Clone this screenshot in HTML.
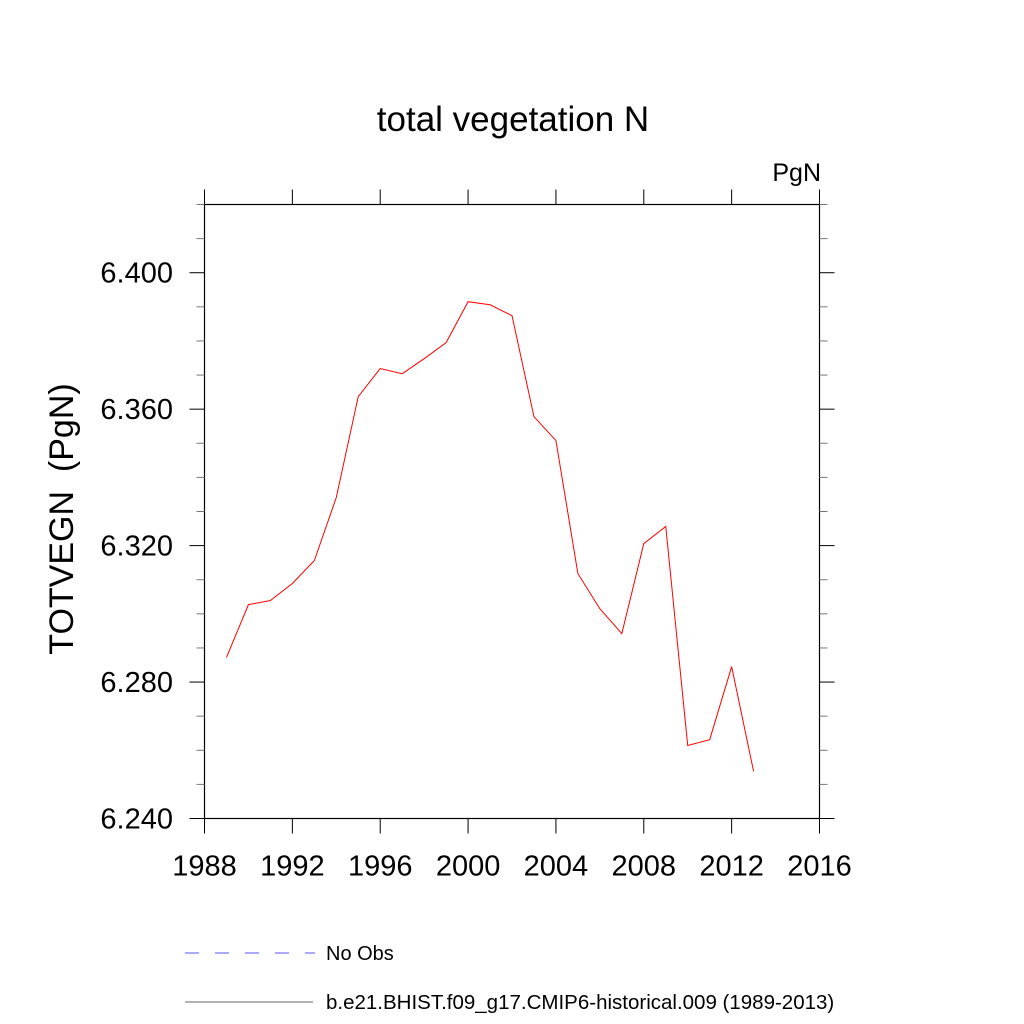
<!DOCTYPE html>
<html><head><meta charset="utf-8"><style>body{margin:0;background:#fff}svg{display:block;font-family:"Liberation Sans",sans-serif}</style></head>
<body>
<svg id="chart" width="1024" height="1024" viewBox="0 0 1024 1024">
<text x="513" y="131" font-size="35" text-anchor="middle">total vegetation N</text>
<text x="821" y="181" font-size="25" text-anchor="end">PgN</text>
<text transform="translate(73,519) rotate(-90)" font-size="34" text-anchor="middle" xml:space="preserve">TOTVEGN  (PgN)</text>
<g id="axes"></g>
<g id="series"></g>
<g>
<line x1="185" y1="953" x2="315" y2="953" stroke="#5555ff" stroke-width="1" stroke-dasharray="14,16"/>
<text x="326" y="960" font-size="20">No Obs</text>
<line x1="185" y1="1002" x2="313" y2="1002" stroke="#666" stroke-width="1"/>
<text x="326" y="1009" font-size="20.5">b.e21.BHIST.f09_g17.CMIP6-historical.009 (1989-2013)</text>
</g>
</svg>
<script>
const years=[1989,1990,1991,1992,1993,1994,1995,1996,1997,1998,1999,2000,2001,2002,2003,2004,2005,2006,2007,2008,2009,2010,2011,2012,2013];
const values=[6.2872,6.3027,6.3039,6.3089,6.3156,6.3341,6.3637,6.3719,6.3704,6.3748,6.3795,6.3915,6.3906,6.3874,6.3578,6.3508,6.3118,6.3015,6.2942,6.3206,6.3256,6.2614,6.2631,6.2845,6.2538];
const xTicks=[1988,1992,1996,2000,2004,2008,2012,2016];
const yTicks=[6.24,6.28,6.32,6.36,6.40];
const yLabels=["6.240","6.280","6.320","6.360","6.400"];
const L=204.5,R=819.5,T=204.5,B=818.5,x0=1988,x1=2016,y0=6.24,y1=6.42;
const sx=v=>L+(v-x0)/(x1-x0)*(R-L);
const sy=v=>B-(v-y0)/(y1-y0)*(B-T);
const NS="http://www.w3.org/2000/svg";
const ax=document.getElementById('axes'),se=document.getElementById('series');
function mk(p,tag,a){const e=document.createElementNS(NS,tag);for(const k in a)e.setAttribute(k,a[k]);p.appendChild(e);return e;}
const box=mk(ax,'rect',{x:L,y:T,width:R-L,height:B-T,fill:'none',stroke:'#000','stroke-width':1.2});


xTicks.forEach(v=>{const x=sx(v);
 const a=mk(ax,'line',{x1:x,y1:B,x2:x,y2:B+15,stroke:'#000'});
 
 
 const b=mk(ax,'line',{x1:x,y1:T,x2:x,y2:T-15,stroke:'#000'});
 
 
 const t=mk(ax,'text',{x:x,y:B+57,'font-size':29,'text-anchor':'middle'});t.textContent=v;
 
 
});
for(let i=0;i<=18;i++){const v=y0+i*0.01,y=sy(v);const major=i%4==0;const len=major?15:8;
 const a=mk(ax,'line',{x1:L,y1:y,x2:L-len,y2:y,stroke:major?'#000':'#777'});
 
 
 const b=mk(ax,'line',{x1:R,y1:y,x2:R+len,y2:y,stroke:major?'#000':'#777'});
 
 
}
yTicks.forEach((v,i)=>{const t=mk(ax,'text',{x:173,y:sy(v)+10,'font-size':29,'text-anchor':'end'});t.textContent=yLabels[i];
 
 
});
const pl=mk(se,'polyline',{points:years.map((y,i)=>sx(y)+','+sy(values[i])).join(' '),fill:'none',stroke:'#ff0000','stroke-width':1});


</script>
</body></html>
